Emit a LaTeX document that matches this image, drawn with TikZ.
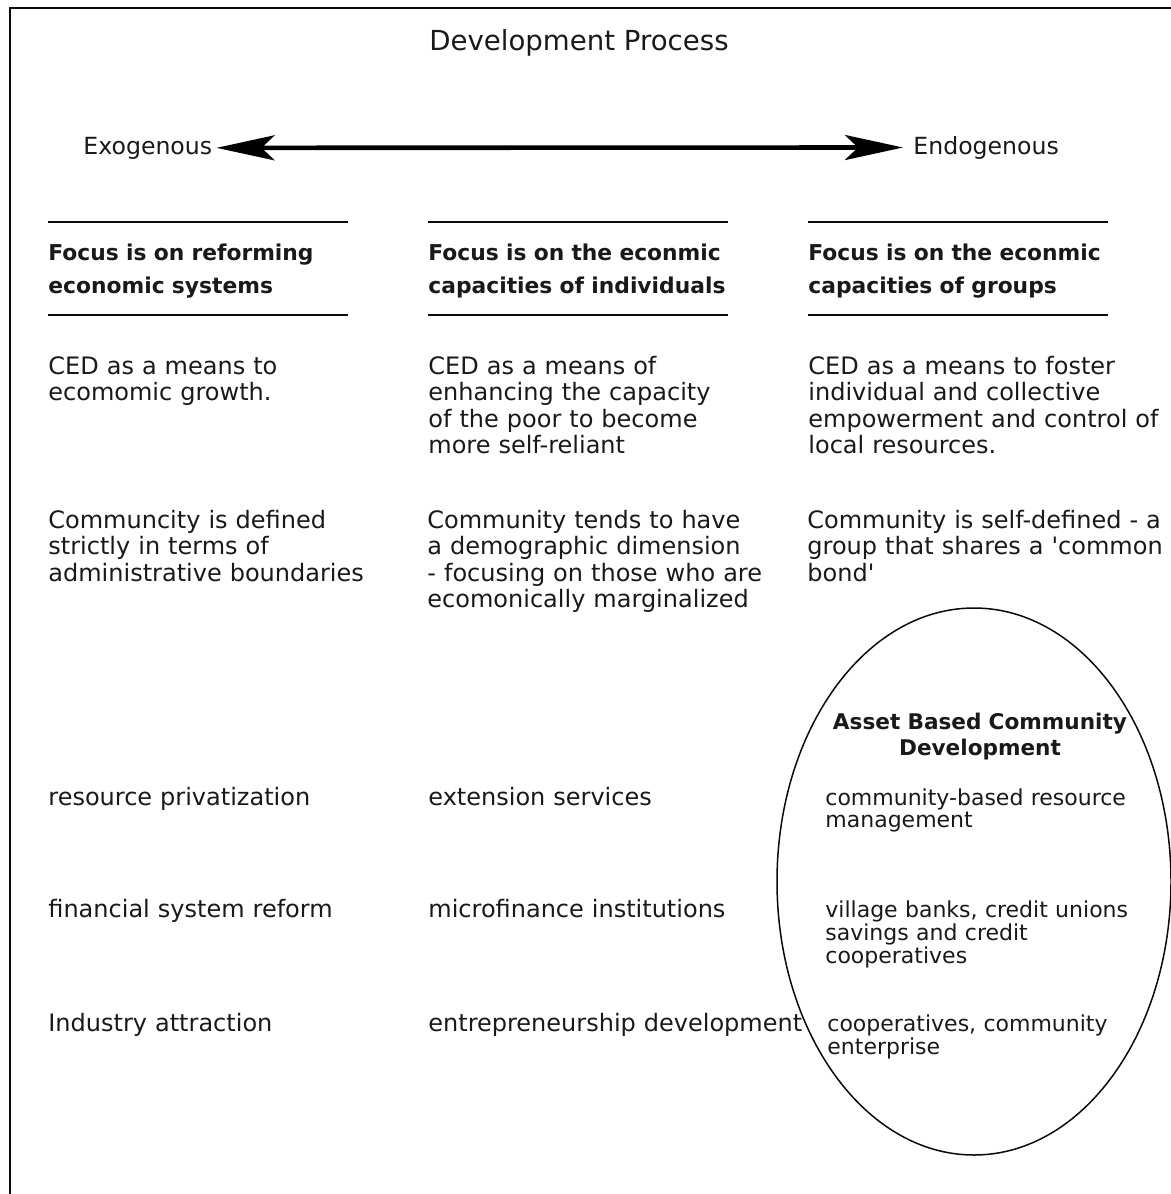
\documentclass[tikz,border=0pt]{standalone}
\usepackage{fontspec}
\setmainfont{DejaVu Sans}
\usetikzlibrary{
  arrows.meta,
  positioning,
  shapes.geometric
}
\definecolor{cedInk}{RGB}{25,25,25}
\definecolor{cedLine}{RGB}{10,10,10}
\tikzset{
  cedtitle/.style={
    anchor=base,
    inner sep=0pt,
    text=cedInk,
    font=\fontsize{13.8}{16}\selectfont
  },
  cedpole/.style={
    anchor=base west,
    inner sep=0pt,
    text=cedInk,
    font=\fontsize{11.8}{14}\selectfont
  },
  cedhead/.style={
    anchor=base west,
    inner sep=0pt,
    text width=200pt,
    align=left,
    text=cedInk,
    font=\bfseries\fontsize{10.9}{16.6}\selectfont
  },
  cedtext/.style={
    anchor=base west,
    inner sep=0pt,
    text width=200pt,
    align=left,
    text=cedInk,
    font=\fontsize{12}{13.3}\selectfont
  },
  cedsmall/.style={
    cedtext,
    font=\fontsize{11}{11.5}\selectfont
  },
  cedoval/.style={
    draw=cedLine,
    ellipse,
    line width=0.75pt,
    inner sep=0pt,
    minimum width=197pt,
    minimum height=273.5pt
  },
  cedrule/.style={
    draw=cedLine,
    line width=0.9pt
  },
  cedarrow/.style={
    {Stealth[length=29pt,width=12.5pt,inset=6.5pt]}-{Stealth[length=29pt,width=12.5pt,inset=6.5pt]},
    line width=2.3pt,
    draw=black
  }
}

\begin{document}
\begin{tikzpicture}[x=0.5pt, y=-0.5pt]
  \useasboundingbox (0,0) rectangle (1171,1194);
  \draw[cedLine, line width=1pt] (10,1194) -- (10,8) -- (1171,8);

  \node[cedtitle] (title) at (579,50) {Development Process};

  \node[cedpole] (exo) at (83,154) {Exogenous};
  \node[cedpole] (endo) at (913,154) {Endogenous};
  \draw[cedarrow, shorten <=2pt, shorten >=5pt] (exo.east) -- (endo.west);

  % column headings
  \draw[cedrule] (48,222) -- (348,222);
  \draw[cedrule] (48,315) -- (348,315);
  \draw[cedrule] (428,222) -- (728,222);
  \draw[cedrule] (428,315) -- (728,315);
  \draw[cedrule] (808,222) -- (1108,222);
  \draw[cedrule] (808,315) -- (1108,315);

  \node[cedhead] (headsys) at (48,260) {Focus is on reforming\\economic systems};
  \node[cedhead] (headind) at (428,260) {Focus is on the econmic\\capacities of individuals};
  \node[cedhead] (headgrp) at (808,260) {Focus is on the econmic\\capacities of groups};

  \node[cedtext] (meansys) at (48,374) {CED as a means to\\ecomomic growth.};
  \node[cedtext] (meansind) at (428,374) {CED as a means of\\enhancing the capacity\\of the poor to become\\more self-reliant};
  \node[cedtext] (meansgrp) at (808,374) {CED as a means to foster\\individual and collective\\empowerment and control of\\local resources.};

  \node[cedtext] (commsys) at (48,528) {Communcity is defined\\strictly in terms of\\administrative boundaries};
  \node[cedtext] (commind) at (427,528) {Community tends to have\\a demographic dimension\\- focusing on those who are\\ecomonically marginalized};
  \node[cedtext] (commgrp) at (807,528) {Community is self-defined - a\\group that shares a \textquotesingle common\\bond\textquotesingle};

  % examples
  \node[cedtext] (privsys) at (48,805) {resource privatization};
  \node[cedtext] (finsys) at (48,917) {financial system reform};
  \node[cedtext] (indsys) at (48,1031) {Industry attraction};
  \node[cedtext] (extind) at (428,805) {extension services};
  \node[cedtext] (microind) at (428,917) {microfinance institutions};
  \node[cedtext] (entind) at (428,1031) {entrepreneurship development};

  \node[cedoval] (abcd) at (974,881.5) {};
  \node[cedhead, anchor=base, align=center, font=\bfseries\fontsize{10.8}{13}\selectfont] (abcdtitle) at (980,729) {Asset Based Community\\Development};
  \node[cedsmall, font=\fontsize{11}{8.5}\selectfont] (abcdres) at (825,805) {\lineskiplimit=-100pt community-based resource\\management};
  \node[cedsmall] (abcdbank) at (825,917) {village banks, credit unions\\savings and credit\\cooperatives};
  \node[cedsmall] (abcdcoop) at (827,1031) {cooperatives, community\\enterprise};
\end{tikzpicture}
\end{document}
